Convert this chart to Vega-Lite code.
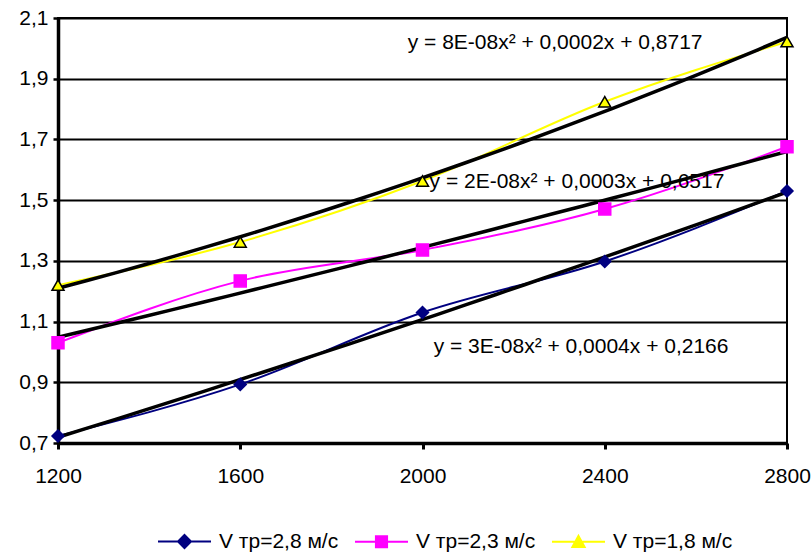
{
  "$schema": "https://vega.github.io/schema/vega-lite/v6.json",
  "width": 729,
  "height": 425,
  "autosize": {"type": "none"},
  "padding": {"left": 58, "top": 18, "right": 24, "bottom": 110},
  "background": "white",
  "config": {
    "font": "Liberation Sans",
    "view": {"stroke": "black", "strokeWidth": 2},
    "axisX": {"domainColor": "black", "domainWidth": 3.5, "tickColor": "black", "tickWidth": 3, "tickSize": 6, "labelFontSize": 21, "labelColor": "black", "labelPadding": 16, "labelFlush": false, "labelOverlap": false, "labelBound": false, "grid": false},
    "axisY": {"domainColor": "black", "domainWidth": 3.5, "tickColor": "black", "tickWidth": 2.5, "tickSize": 5, "labelFontSize": 21, "labelColor": "black", "labelPadding": 5, "labelOverlap": false, "grid": true, "gridColor": "black", "gridWidth": 2, "gridOpacity": 1}
  },
  "datasets": {
    "pts": [
      {"series": "V тр=2,8 м/с", "x": 1200, "y": 0.723},
      {"series": "V тр=2,8 м/с", "x": 1600, "y": 0.893},
      {"series": "V тр=2,8 м/с", "x": 2000, "y": 1.130},
      {"series": "V тр=2,8 м/с", "x": 2400, "y": 1.298},
      {"series": "V тр=2,8 м/с", "x": 2800, "y": 1.530},
      {"series": "V тр=2,3 м/с", "x": 1200, "y": 1.030},
      {"series": "V тр=2,3 м/с", "x": 1600, "y": 1.234},
      {"series": "V тр=2,3 м/с", "x": 2000, "y": 1.336},
      {"series": "V тр=2,3 м/с", "x": 2400, "y": 1.471},
      {"series": "V тр=2,3 м/с", "x": 2800, "y": 1.676},
      {"series": "V тр=1,8 м/с", "x": 1200, "y": 1.220},
      {"series": "V тр=1,8 м/с", "x": 1600, "y": 1.362},
      {"series": "V тр=1,8 м/с", "x": 2000, "y": 1.563},
      {"series": "V тр=1,8 м/с", "x": 2400, "y": 1.824},
      {"series": "V тр=1,8 м/с", "x": 2800, "y": 2.022}
    ],
    "eqs": [
      {"x": 2291, "y": 1.997, "label": "y = 8E-08x² + 0,0002x + 0,8717"},
      {"x": 2339, "y": 1.539, "label": "y = 2E-08x² + 0,0003x + 0,6517"},
      {"x": 2348, "y": 0.996, "label": "y = 3E-08x² + 0,0004x + 0,2166"}
    ]
  },
  "resolve": {"scale": {"stroke": "independent", "fill": "independent", "shape": "independent"}},
  "layer": [
    {
      "data": {"name": "pts"},
      "mark": {"type": "line", "interpolate": "monotone", "strokeWidth": 2},
      "encoding": {
        "x": {"field": "x", "type": "quantitative", "scale": {"domain": [1200, 2800], "nice": false, "zero": false}, "axis": {"title": null, "values": [1200, 1600, 2000, 2400, 2800], "format": "d"}},
        "y": {"field": "y", "type": "quantitative", "scale": {"domain": [0.7, 2.1], "nice": false, "zero": false}, "axis": {"title": null, "values": [0.7, 0.9, 1.1, 1.3, 1.5, 1.7, 1.9, 2.1], "labelExpr": "replace(format(datum.value, '.1f'), '.', ',')"}},
        "stroke": {"field": "series", "type": "nominal", "scale": {"domain": ["V тр=2,8 м/с", "V тр=2,3 м/с", "V тр=1,8 м/с"], "range": ["#000080", "#FF00FF", "#FFFF00"]}, "legend": null}
      }
    },
    {
      "data": {"name": "eqs"},
      "mark": {"type": "text", "fontSize": 21, "font": "Liberation Sans", "color": "black", "align": "center", "baseline": "alphabetic"},
      "encoding": {
        "x": {"field": "x", "type": "quantitative", "axis": {"title": null, "values": [1200, 1600, 2000, 2400, 2800], "format": "d"}},
        "y": {"field": "y", "type": "quantitative", "axis": {"title": null, "values": [0.7, 0.9, 1.1, 1.3, 1.5, 1.7, 1.9, 2.1], "labelExpr": "replace(format(datum.value, '.1f'), '.', ',')"}},
        "text": {"field": "label"}
      }
    },
    {
      "data": {"name": "pts"},
      "transform": [{"regression": "y", "on": "x", "groupby": ["series"], "method": "poly", "order": 2, "extent": [1200, 2800]}],
      "mark": {"type": "line", "color": "black", "strokeWidth": 3.5},
      "encoding": {
        "x": {"field": "x", "type": "quantitative", "axis": {"title": null, "values": [1200, 1600, 2000, 2400, 2800], "format": "d"}},
        "y": {"field": "y", "type": "quantitative", "axis": {"title": null, "values": [0.7, 0.9, 1.1, 1.3, 1.5, 1.7, 1.9, 2.1], "labelExpr": "replace(format(datum.value, '.1f'), '.', ',')"}},
        "detail": {"field": "series", "type": "nominal"}
      }
    },
    {
      "data": {"name": "pts"},
      "mark": {"type": "point", "filled": false, "size": 144, "strokeWidth": 1.5, "opacity": 1},
      "encoding": {
        "x": {"field": "x", "type": "quantitative", "axis": {"title": null, "values": [1200, 1600, 2000, 2400, 2800], "format": "d"}},
        "y": {"field": "y", "type": "quantitative", "axis": {"title": null, "values": [0.7, 0.9, 1.1, 1.3, 1.5, 1.7, 1.9, 2.1], "labelExpr": "replace(format(datum.value, '.1f'), '.', ',')"}},
        "fill": {"field": "series", "type": "nominal", "scale": {"domain": ["V тр=2,8 м/с", "V тр=2,3 м/с", "V тр=1,8 м/с"], "range": ["#000080", "#FF00FF", "#FFFF00"]}, "legend": null},
        "stroke": {"field": "series", "type": "nominal", "scale": {"domain": ["V тр=2,8 м/с", "V тр=2,3 м/с", "V тр=1,8 м/с"], "range": ["#000080", "#FF00FF", "#000000"]}, "legend": null},
        "shape": {"field": "series", "type": "nominal", "scale": {"domain": ["V тр=2,8 м/с", "V тр=2,3 м/с", "V тр=1,8 м/с"], "range": ["diamond", "square", "triangle-up"]}, "legend": null}
      }
    },
    {
      "data": {"name": "pts"},
      "transform": [{"filter": "false"}],
      "mark": {"type": "point", "filled": false, "opacity": 1},
      "encoding": {
        "x": {"field": "x", "type": "quantitative", "axis": {"title": null, "values": [1200, 1600, 2000, 2400, 2800], "format": "d"}},
        "y": {"field": "y", "type": "quantitative", "axis": {"title": null, "values": [0.7, 0.9, 1.1, 1.3, 1.5, 1.7, 1.9, 2.1], "labelExpr": "replace(format(datum.value, '.1f'), '.', ',')"}},
        "fill": {"field": "series", "type": "nominal", "scale": {"domain": ["V тр=2,8 м/с", "V тр=2,3 м/с", "V тр=1,8 м/с"], "range": ["#000080", "#FF00FF", "#FFFF00"]}, "legend": {"title": null}},
        "stroke": {"field": "series", "type": "nominal", "scale": {"domain": ["V тр=2,8 м/с", "V тр=2,3 м/с", "V тр=1,8 м/с"], "range": ["#000080", "#FF00FF", "#FFFF00"]}, "legend": {"title": null}},
        "shape": {"field": "series", "type": "nominal", "scale": {"domain": ["V тр=2,8 м/с", "V тр=2,3 м/с", "V тр=1,8 м/с"], "range": ["M-1,0H1M0,-0.245L0.245,0L0,0.245L-0.245,0Z", "M-1,0H1M-0.21,-0.21H0.21V0.21H-0.21Z", "M-1,0H1M0,-0.22L0.23,0.2L-0.23,0.2Z"]}, "legend": {"title": null, "orient": "none", "direction": "horizontal", "legendX": 99, "legendY": 496, "padding": 0, "symbolSize": 2809, "symbolStrokeWidth": 2, "symbolOpacity": 1, "labelFont": "Liberation Sans", "labelFontSize": 21, "labelColor": "black", "labelOffset": 7, "columnPadding": 12, "labelLimit": 300}}
      }
    }
  ]
}
